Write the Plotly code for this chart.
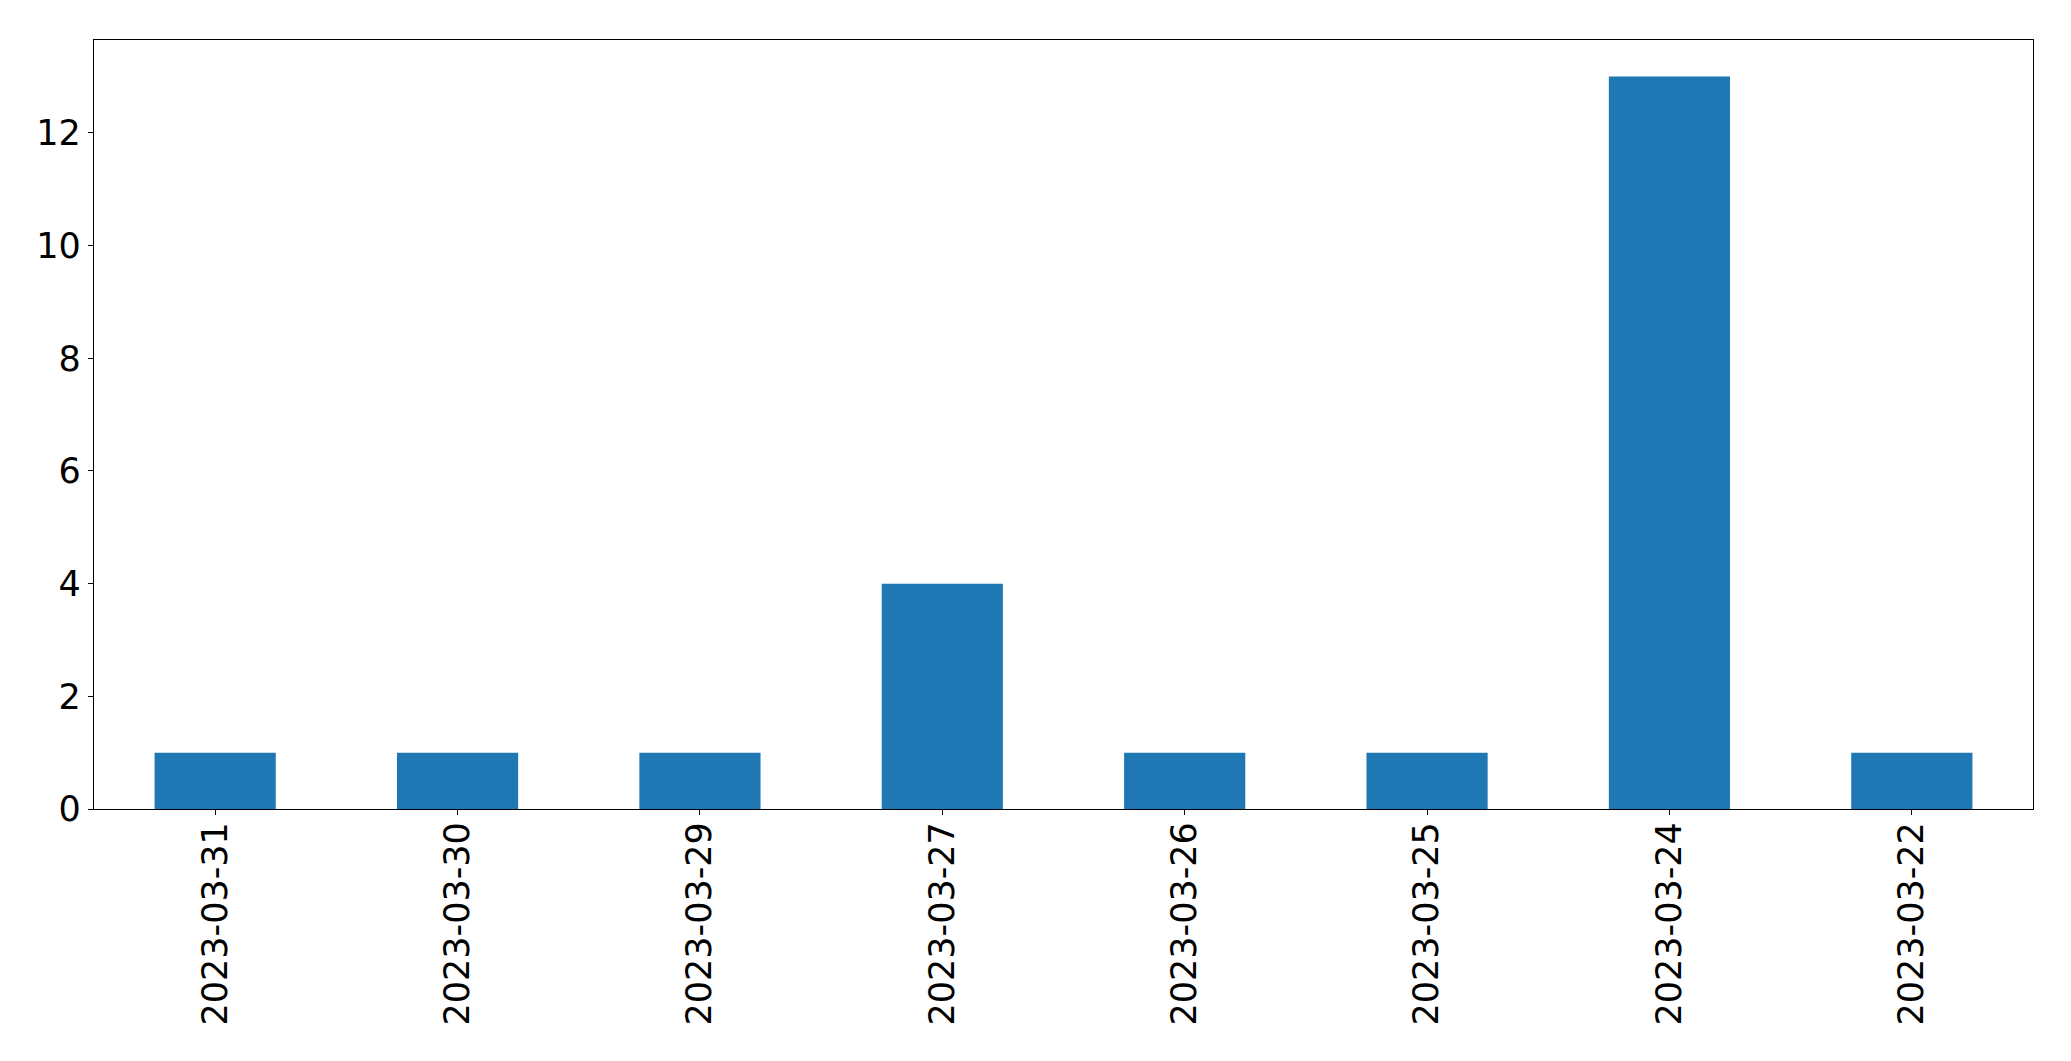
import plotly.graph_objects as go

dates = ["2023-03-31", "2023-03-30", "2023-03-29", "2023-03-27",
         "2023-03-26", "2023-03-25", "2023-03-24", "2023-03-22"]
counts = [1, 1, 1, 4, 1, 1, 13, 1]
y_ticks = [0, 2, 4, 6, 8, 10, 12]

fig = go.Figure(go.Bar(x=dates, y=counts, width=0.5, marker_color="#1f77b4",
                       marker_line_width=0))

font = dict(family="DejaVu Sans", size=35, color="black")
fig.update_layout(
    width=2063, height=1053,
    margin=dict(l=86, r=38, t=32, b=252),
    paper_bgcolor="white", plot_bgcolor="white",
    showlegend=False,
    font=font,
)
fig.update_xaxes(type="category", categoryorder="array", categoryarray=dates,
                 range=[-0.5, len(dates) - 0.5], tickangle=-90,
                 showline=True, linecolor="black", linewidth=1.3, mirror=True,
                 ticks="outside", ticklen=5, tickwidth=1.3, tickcolor="black",
                 showgrid=False, tickfont=font, ticklabelstandoff=-7)
fig.update_yaxes(range=[0, 13.65], tickvals=y_ticks,
                 showline=True, linecolor="black", linewidth=1.3, mirror=True,
                 ticks="outside", ticklen=5, tickwidth=1.3, tickcolor="black",
                 showgrid=False, zeroline=False, tickfont=font)

fig.write_html("out.html")
